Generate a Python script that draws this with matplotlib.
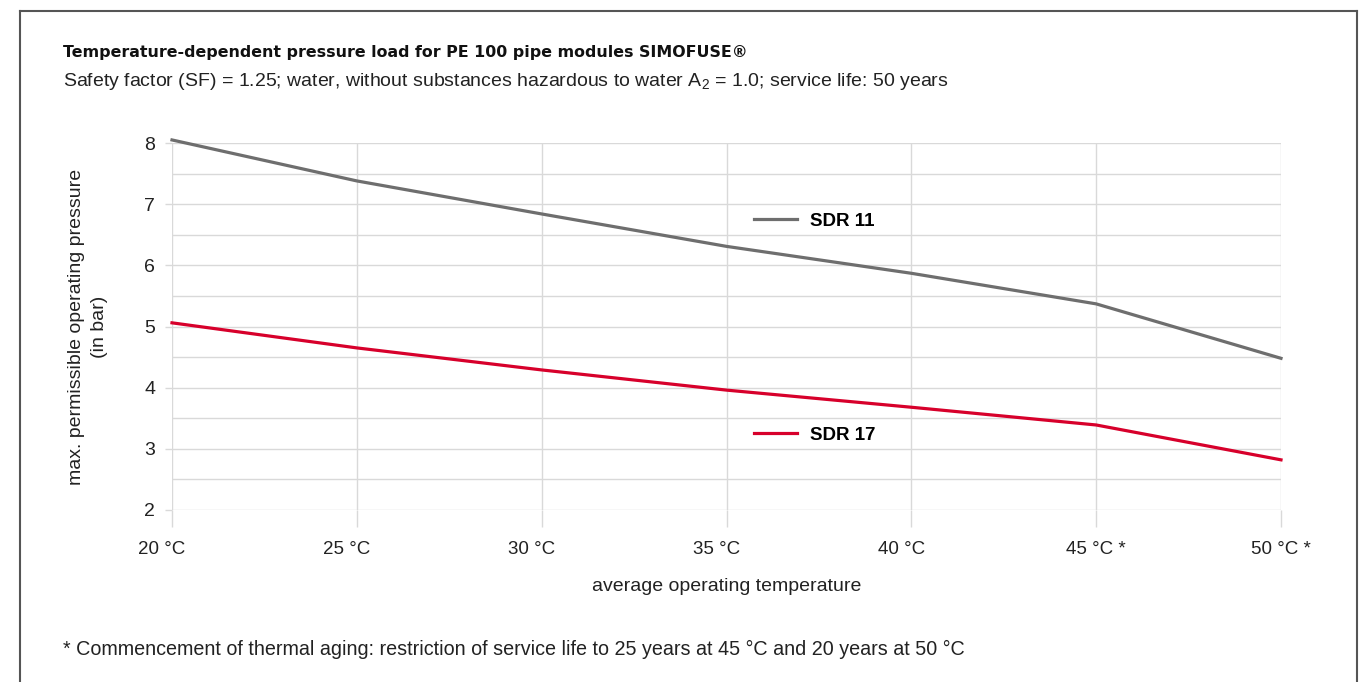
import matplotlib
matplotlib.use('Agg')
import matplotlib.pyplot as plt
import matplotlib.transforms as mtransforms
from matplotlib.lines import Line2D

plt.rcParams['font.family'] = ['Liberation Sans', 'DejaVu Sans']
plt.rcParams['mathtext.fontset'] = 'custom'
plt.rcParams['mathtext.rm'] = 'Liberation Sans'

# data
temps = [20, 25, 30, 35, 40, 45, 50]
temp_labels = ['20 °C', '25 °C', '30 °C', '35 °C', '40 °C', '45 °C *', '50 °C *']
sdr11 = [8.05, 7.38, 6.84, 6.31, 5.87, 5.37, 4.48]
sdr17 = [5.06, 4.65, 4.29, 3.96, 3.68, 3.39, 2.82]

grey = '#6e6e6e'
red = '#d7002b'
gridc = '#d9d9d9'
txt = '#222222'

W, H = 1370, 682
fig = plt.figure(figsize=(W/100, H/100), dpi=100)
ax = fig.add_axes([172/W, 1-510/H, (1281-172)/W, (510-143)/H])

ax.plot(temps, sdr11, color=grey, lw=2.3, clip_on=False, zorder=3)
ax.plot(temps, sdr17, color=red, lw=2.3, clip_on=False, zorder=3)

ax.set_xlim(20, 50)
ax.set_ylim(2, 8)
ax.set_xticks(temps)
ax.set_xticklabels(temp_labels)
ax.set_yticks(range(2, 9))
ax.set_yticks([y + 0.5 for y in range(2, 8)], minor=True)
ax.grid(True, which='both', color=gridc, lw=1.0, zorder=0)
for s in ax.spines.values():
    s.set_visible(False)
ax.tick_params(axis='x', length=12, color=gridc, width=1.0, pad=10,
               labelsize=13.5, labelcolor=txt)
ax.tick_params(axis='y', which='major', length=5, color=gridc, width=1.0,
               pad=7, labelsize=14, labelcolor=txt)
ax.tick_params(axis='y', which='minor', length=0)

# labels without the asterisk sit a bit left of their tick
shift = mtransforms.ScaledTranslation(-10/100, 0, fig.dpi_scale_trans)
for lab in ax.get_xticklabels():
    if '*' not in lab.get_text():
        lab.set_transform(lab.get_transform() + shift)

ax.set_xlabel('average operating temperature', fontsize=14, color=txt,
              labelpad=15)
ax.set_ylabel('max. permissible operating pressure\n(in bar)', fontsize=14,
              color=txt, labelpad=26, linespacing=1.45)

# legend entries
leg1 = ax.legend([Line2D([], [], color=grey, lw=2.3)], ['SDR 11'],
                 loc='center left', bbox_to_anchor=(0.516, 0.787),
                 frameon=False, handlelength=2.3, handletextpad=0.7,
                 borderpad=0, prop={'weight': 'bold', 'size': 13.5})
ax.add_artist(leg1)
ax.legend([Line2D([], [], color=red, lw=2.3)], ['SDR 17'],
          loc='center left', bbox_to_anchor=(0.516, 0.204),
          frameon=False, handlelength=2.3, handletextpad=0.7,
          borderpad=0, prop={'weight': 'bold', 'size': 13.5})

# titles and footnote
fig.text(63/W, 1-53/H, 'Temperature-dependent pressure load for PE 100 pipe modules SIMOFUSE®',
         fontsize=11.4, fontweight='bold', family=['DejaVu Sans'],
         va='center', ha='left', color='#111111')
fig.text(63/W, 1-81/H,
         'Safety factor (SF) = 1.25; water, without substances hazardous to water A$_2$ = 1.0; service life: 50 years',
         fontsize=14, va='center', ha='left', color=txt)
fig.text(63/W, 1-649/H,
         '* Commencement of thermal aging: restriction of service life to 25 years at 45 °C and 20 years at 50 °C',
         fontsize=14.2, va='center', ha='left', color=txt)

# frame
fc = '#555555'
fig.add_artist(Line2D([20/W, 20/W], [0, 1-11/H], color=fc, lw=1.5))
fig.add_artist(Line2D([20/W, 1357/W], [1-11/H, 1-11/H], color=fc, lw=1.5))
fig.add_artist(Line2D([1357/W, 1357/W], [0, 1-11/H], color=fc, lw=1.5))

fig.savefig('out.png', dpi=100, facecolor='white')
